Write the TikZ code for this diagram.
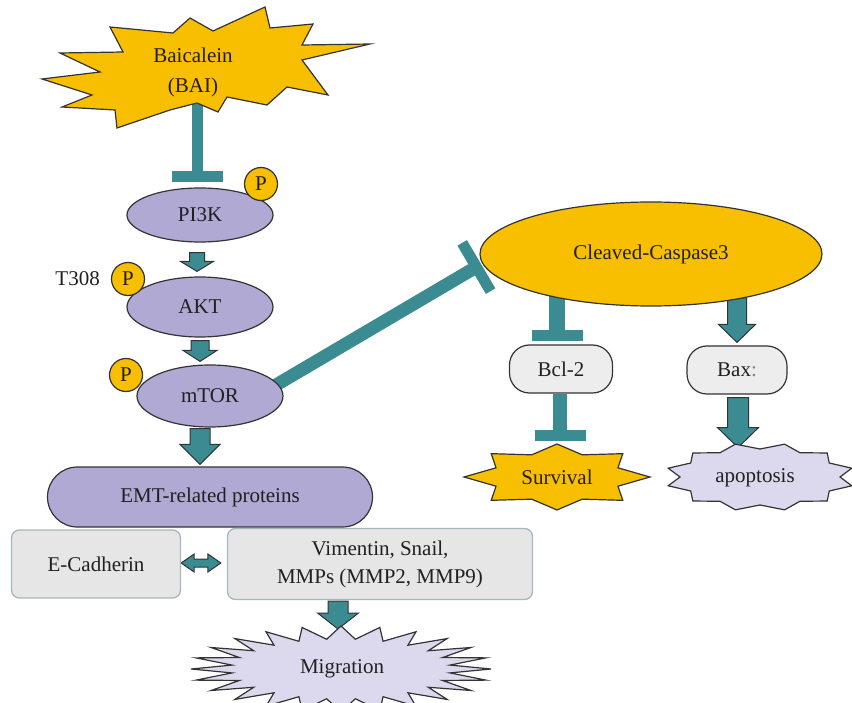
\documentclass[tikz,border=0pt]{standalone}
\usepackage{fontspec}
\setmainfont{Liberation Serif}
\usetikzlibrary{shapes.geometric,calc,backgrounds}
\definecolor{ylw}{HTML}{F8BE00}
\definecolor{purp}{HTML}{AFA9D4}
\definecolor{tealc}{HTML}{3A8B92}
\definecolor{lav}{HTML}{DCD9EE}
\definecolor{gfill}{HTML}{E6E6E6}
\definecolor{gborder}{HTML}{A3B9BB}
\definecolor{pfill}{HTML}{EDEDED}
\definecolor{edge}{HTML}{333333}
\definecolor{txt}{HTML}{231F20}
\newcommand\dnarr[5]{%
  \path[blockarr] let \p1=(#1), \p2=(#2) in
    (\x1-#3pt,\y1) -- (\x1+#3pt,\y1) -- (\x1+#3pt,\y2+#5pt) -- (\x1+#4pt,\y2+#5pt)
    -- (\x1,\y2) -- (\x1-#4pt,\y2+#5pt) -- (\x1-#3pt,\y2+#5pt) -- cycle;}
\newcommand\tbar[4]{% from, to, half bar, stem width
  \draw[inhib, line width=#4pt] (#1) -- (#2);
  \draw[inhib, line width=11pt] ($(#2)!#3pt!90:(#1)$) -- ($(#2)!#3pt!-90:(#1)$);}
\begin{document}
\begin{tikzpicture}[x=1pt,y=-1pt,
  every node/.style={text=txt, font=\fontsize{21}{28}\selectfont},
  purpfill/.style={draw=edge, line width=1.2pt, fill=purp, inner sep=0pt},
  ell/.style={ellipse, purpfill},
  pbub/.style={circle, draw=edge, fill=ylw, minimum size=33pt, inner sep=0pt, line width=1.2pt},
  inhib/.style={draw=tealc},
  blockarr/.style={fill=tealc, draw=edge, line width=1pt},
  gbox/.style={rectangle, rounded corners=8pt, draw=gborder, fill=gfill, line width=1.3pt, inner sep=0pt},
  pill/.style={rectangle, rounded corners=20pt, draw=edge, fill=pfill, line width=1.2pt, inner sep=0pt},
  starsty/.style={draw=edge, line width=1.2pt, line join=miter}]
\useasboundingbox (0,0) rectangle (852,703);
\clip (0,0) rectangle (852,703);

% Baicalein burst
\filldraw[starsty, fill=ylw] (42,79) -- (100,72) -- (60,53) -- (123,52) -- (110,27) -- (173,33)
  -- (190,18) -- (213,31) -- (265,7) -- (270,28) -- (313,24) -- (302,45) -- (370,44)
  -- (302,60) -- (328,95) -- (287,87) -- (267,105) -- (227,97) -- (218,112) -- (197,103)
  -- (170,110) -- (117,128) -- (115,110) -- (62,107) -- (92,95) -- cycle;
\node[align=center, font=\fontsize{21}{30}\selectfont] (bai) at (193,72) {Baicalein\\(BAI)};
\coordinate (baib) at (197,104);

% pathway ellipses
\node[ell, minimum width=146pt, minimum height=54pt] (pi3k) at (200,215) {PI3K};
\node[ell, minimum width=146pt, minimum height=60pt] (akt) at (200,307) {AKT};
\node[ell, minimum width=146pt, minimum height=62pt] (mtor) at (210,396) {mTOR};
\node[purpfill, rectangle, rounded corners=30pt, minimum width=325pt, minimum height=60pt] (emt) at (210,497) {EMT-related proteins};

\node[pbub] (p1) at (261,184) {P};
\node[pbub] (p2) at (128,279) {P};
\node[pbub] (p3) at (126,375) {P};
\node[anchor=east, inner sep=0pt] (t308) at (100,279) {T308};

% EMT markers
\node[gbox, minimum width=169pt, minimum height=68pt] (ecad) at (96,564) {E-Cadherin};
\node[gbox, minimum width=305pt, minimum height=71pt, align=center] (vim) at (380,564) {Vimentin, Snail,\\MMPs (MMP2, MMP9)};

% Migration burst
\filldraw[starsty, fill=lav] plot[variable=\i, samples at={0,...,47}]
  ({341+(mod(\i,2)==0 ? 150 : 110)*cos(\i*7.5)}, {669+(mod(\i,2)==0 ? 43 : 30)*sin(\i*7.5)}) -- cycle;
\node (migr) at (342,669) {Migration};
\coordinate (migrtop) at (338,629);

% Caspase branch
\node[ellipse, draw=edge, fill=ylw, line width=1.2pt, minimum width=342pt, minimum height=104pt] (casp) at (651,254) {Cleaved-Caspase3};
\node[pill, minimum width=103pt, minimum height=48pt] (bcl) at (561,369) {Bcl-2};
\node[pill, minimum width=100pt, minimum height=48pt] (bax) at (737,370) {Bax\textcolor{gray}{:}};

\filldraw[starsty, fill=ylw] plot[variable=\i, samples at={0,...,15}]
  ({557+(mod(\i,2)==0 ? 93 : 66)*cos(\i*22.5)}, {477+(mod(\i,2)==0 ? 33 : 24)*sin(\i*22.5)}) -- cycle;
\node (surv) at (557,477) {Survival};
\filldraw[starsty, fill=lav] plot[variable=\i, samples at={0,...,23}]
  ({760+(mod(\i,2)==1 ? 95 : 80)*cos(\i*15)}, {477+(mod(\i,2)==1 ? 34 : 28)*sin(\i*15)}) -- cycle;
\node (apop) at (755,478) {apoptosis};

\coordinate (cs1) at (557,296);
\coordinate (cb1) at (737,298);
\coordinate (cbar) at ($(casp.west)+(-3,13)$);
\coordinate (mt1) at ($(mtor.center)+(66,-11)$);

\begin{scope}[on background layer]
  \tbar{baib}{$(pi3k.north)+(-3,-10.5)$}{25.5}{11}
  \tbar{mt1}{cbar}{28}{13}
  \tbar{cs1}{$(bcl.north)+(-4,-9)$}{25.5}{16}
  \tbar{$(bcl.south)+(-1,0)$}{$(bcl.south)+(-1,42)$}{25.5}{14}
  \dnarr{$(pi3k.south)+(-3,10)$}{$(akt.north)+(-3,-5)$}{7.5}{16.5}{10}
  \dnarr{$(akt.south)+(0,3)$}{$(mtor.north)+(-10,-3)$}{9}{17}{11}
  \dnarr{$(mtor.south)+(-10,1)$}{$(emt.north)+(-10,-2)$}{10}{20}{20}
  \dnarr{cb1}{$(bax.north)+(0,-3)$}{9.5}{18.5}{18}
  \dnarr{$(bax.south)+(1,3)$}{$(bax.south)+(1,53)$}{10.5}{20.5}{20}
  \dnarr{$(vim.south)+(-42,1)$}{migrtop}{10}{20.5}{16}
  \path[blockarr] let \p1=($(ecad.east)+(0,-1)$), \p2=($(vim.west)+(-6,-1)$) in
    (\x1,\y1) -- (\x1+13pt,\y1+9pt) -- (\x1+13pt,\y1+4pt) -- (\x2-13pt,\y1+4pt)
    -- (\x2-13pt,\y1+9pt) -- (\x2,\y1) -- (\x2-13pt,\y1-9pt) -- (\x2-13pt,\y1-4pt)
    -- (\x1+13pt,\y1-4pt) -- (\x1+13pt,\y1-9pt) -- cycle;
\end{scope}
\end{tikzpicture}
\end{document}
